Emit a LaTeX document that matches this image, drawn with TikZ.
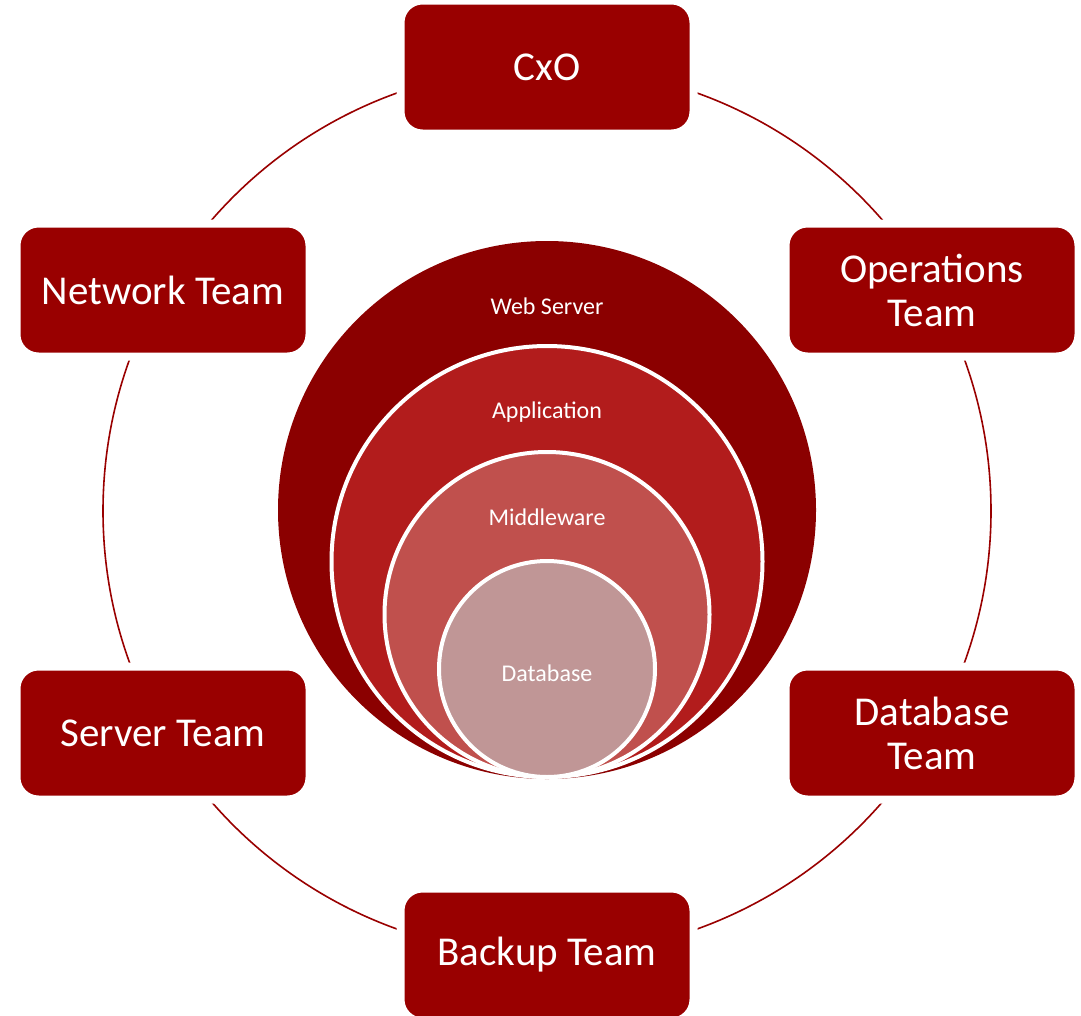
\documentclass[tikz,border=0pt]{standalone}
\usepackage{fontspec}
\setmainfont{Carlito}
\usetikzlibrary{positioning}
\definecolor{boxred}{RGB}{153,0,0}
\definecolor{webred}{RGB}{139,0,0}
\definecolor{appred}{RGB}{178,28,28}
\definecolor{midred}{RGB}{192,80,77}
\definecolor{dbrose}{RGB}{192,150,150}
\tikzset{
  teambox/.style={rectangle, rounded corners=22pt, fill=boxred, draw=white, line width=8pt,
    minimum width=293pt, minimum height=133pt, text=white, align=center,
    font=\fontsize{41}{44}\selectfont},
  layer/.style={circle, draw=white, line width=4pt, inner sep=0pt},
  layertext/.style={text=white, font=\fontsize{24}{28}\selectfont},
  ring/.style={draw=boxred, line width=1.6pt}
}

\begin{document}
\begin{tikzpicture}[x=1pt,y=-1pt]
\useasboundingbox (0,0) rectangle (1081,1015);
\coordinate (hub) at (547,511);
\draw[ring] (hub) circle[radius=444];

\node[teambox] (cxo) at (547,67) {CxO};
\node[teambox] (ops) at (932,290) {Operations\\Team};
\node[teambox] (dbteam) at (932,733) {Database\\Team};
\node[teambox] (backup) at (547,955) {Backup Team};
\node[teambox] (server) at (163,733) {Server Team};
\node[teambox] (network) at (163,290) {Network Team};

% nested layers, all touching at the bottom
\node[layer, fill=webred, draw=none, minimum size=538pt] (web) at (547,510) {};
\node[layer, fill=appred, minimum size=431pt] (app) at (547,561.5) {};
\node[layer, fill=midred, minimum size=325pt] (mid) at (547,614.5) {};
\node[layer, fill=dbrose, minimum size=216pt] (db) at (547,669) {};

\node[layertext] (webtext) at (547,306) {Web Server};
\node[layertext] (apptext) at (547,412) {Application};
\node[layertext] (midtext) at (547,517) {Middleware};
\node[layertext] (dbtext) at (547,673) {Database};
\end{tikzpicture}
\end{document}
